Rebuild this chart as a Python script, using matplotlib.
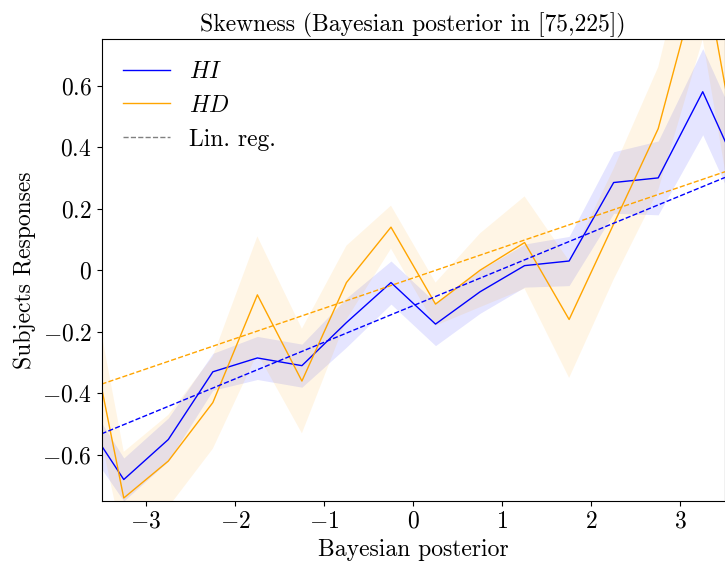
import numpy as np
import matplotlib
matplotlib.use("Agg")
import matplotlib.pyplot as plt
from matplotlib.ticker import FuncFormatter

plt.rcParams['font.family'] = ['cmr10']
plt.rcParams['mathtext.fontset'] = 'cm'
plt.rcParams['axes.formatter.use_mathtext'] = True
plt.rcParams['axes.unicode_minus'] = True

x = [-3.75, -3.25, -2.75, -2.25, -1.75, -1.25, -0.75, -0.25, 0.25, 0.75, 1.25, 1.75, 2.25, 2.75, 3.25, 3.75]
hi = [-0.46, -0.68, -0.55, -0.33, -0.285, -0.31, -0.17, -0.04, -0.175, -0.07, 0.015, 0.03, 0.285, 0.30, 0.58, 0.26]
hi_err = [0.08, 0.07, 0.07, 0.06, 0.07, 0.07, 0.08, 0.07, 0.07, 0.07, 0.07, 0.08, 0.10, 0.12, 0.14, 0.14]
hd = [-0.02, -0.74, -0.62, -0.43, -0.08, -0.36, -0.04, 0.14, -0.11, 0.0, 0.09, -0.16, 0.15, 0.46, 1.0, 0.2]
hd_err = [0.2, 0.15, 0.15, 0.15, 0.19, 0.17, 0.12, 0.07, 0.07, 0.12, 0.15, 0.19, 0.18, 0.2, 0.25, 0.3]
reg_hi = (0.119, -0.115)
reg_hd = (0.0986, -0.025)

fig, ax = plt.subplots(figsize=(7.25, 5.63), dpi=100)
xa = np.array(x)
for y, e, c in [(hi, hi_err, 'blue'), (hd, hd_err, 'orange')]:
    y = np.array(y); e = np.array(e)
    ax.fill_between(xa, y - e, y + e, color=c, alpha=0.1, lw=0)
ax.plot(xa, hi, color='blue', lw=1, label='$HI$')
ax.plot(xa, hd, color='orange', lw=1, label='$HD$')
xl = np.array([-3.5, 3.5])
ax.plot(xl, reg_hi[0] * xl + reg_hi[1], '--', color='blue', lw=1)
ax.plot(xl, reg_hd[0] * xl + reg_hd[1], '--', color='orange', lw=1)
ax.plot([], [], '--', color='gray', lw=1, label='Lin. reg.')
ax.set_xlim(-3.5, 3.5)
ax.set_ylim(-0.75, 0.75)
ax.set_yticks([-0.6, -0.4, -0.2, 0, 0.2, 0.4, 0.6])
ax.set_xticks([-3, -2, -1, 0, 1, 2, 3])
ax.yaxis.set_major_formatter(FuncFormatter(lambda v, p: '$0$' if abs(v) < 1e-9 else '$%s$' % ('%.1f' % v).replace('-', '-')))
ax.xaxis.set_major_formatter(FuncFormatter(lambda v, p: '$%d$' % round(v)))
ax.tick_params(labelsize=17)
ax.set_xlabel('Bayesian posterior', fontsize=17)
ax.set_ylabel('Subjects Responses', fontsize=17)
ax.set_title('Skewness (Bayesian posterior in [75,225])', fontsize=17)
ax.legend(loc='upper left', fontsize=17, frameon=False)
fig.subplots_adjust(left=0.14, right=1.0, bottom=0.11, top=0.93)
fig.savefig('out.png')
